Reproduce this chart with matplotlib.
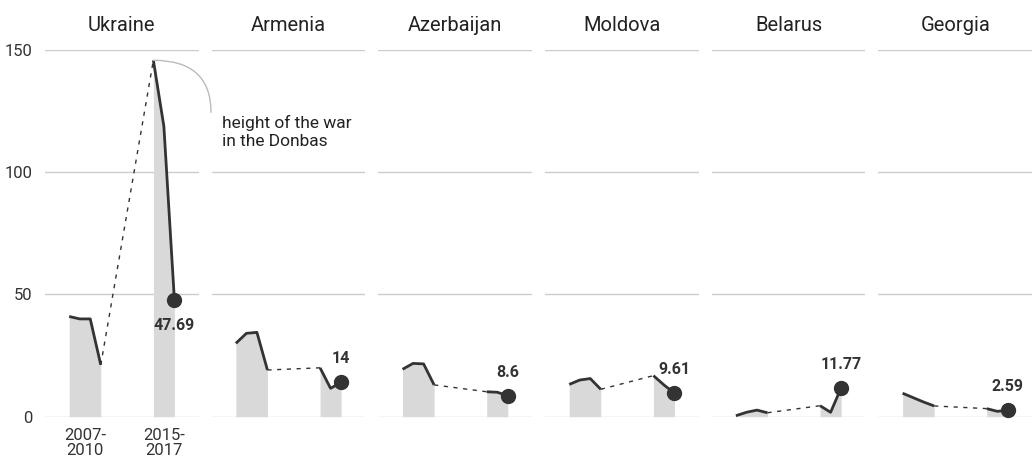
import matplotlib.pyplot as plt

plt.rcParams['font.family'] = ['Roboto', 'DejaVu Sans']

countries = ['Ukraine', 'Armenia', 'Azerbaijan', 'Moldova', 'Belarus', 'Georgia']
years_early = [2007, 2008, 2009, 2010]
years_late = [2015, 2016, 2017]

early = {
    'Ukraine': [41.0, 40.0, 40.0, 21.2],
    'Armenia': [30.0, 34.1, 34.5, 19.1],
    'Azerbaijan': [19.4, 21.8, 21.6, 13.0],
    'Moldova': [13.2, 15.0, 15.6, 11.2],
    'Belarus': [0.4, 1.8, 2.7, 1.6],
    'Georgia': [9.6, 7.8, 6.0, 4.4],
}
late = {
    'Ukraine': [145.8, 118.7, 47.69],
    'Armenia': [20.0, 11.6, 14],
    'Azerbaijan': [10.2, 10.0, 8.6],
    'Moldova': [16.8, 13.0, 9.61],
    'Belarus': [4.5, 1.8, 11.77],
    'Georgia': [3.3, 2.2, 2.59],
}
last_labels = ['47.69', '14', '8.6', '9.61', '11.77', '2.59']
period_labels = ['2007-\n2010', '2015-\n2017']
period_pos = [2008.5, 2016]
y_ticks = [0, 50, 100, 150]

dark = '#333333'
fill = '#d9d9d9'
grid = '#cccccc'

fig, axes = plt.subplots(1, 6, figsize=(10.32, 4.66), dpi=100, sharey=True)
fig.subplots_adjust(left=0.0436, right=1.0, bottom=0.1058, top=0.8927, wspace=0.085)

for i, (ax, c) in enumerate(zip(axes, countries)):
    e = early[c]
    l = late[c]
    ax.set_facecolor('none')
    ax.fill_between(years_early, e, 0, color=fill, lw=0, zorder=1)
    ax.fill_between(years_late, l, 0, color=fill, lw=0, zorder=1)
    ax.plot(years_early, e, color=dark, lw=2.0, zorder=3, solid_capstyle='butt', clip_on=False)
    ax.plot(years_late, l, color=dark, lw=2.0, zorder=3, solid_capstyle='butt', clip_on=False)
    ax.plot([years_early[-1], years_late[0]], [e[-1], l[0]], color=dark, lw=1,
            ls=(0, (3, 4)), zorder=2)
    ax.plot(years_late[-1], l[-1], 'o', color=dark, ms=10, zorder=4, clip_on=False)

    # label under the dot for Ukraine, above for the rest
    dy = -18 if c == 'Ukraine' else 17
    ax.annotate(last_labels[i], (years_late[-1], l[-1]), xytext=(0, dy),
                textcoords='offset points', ha='center', va='center',
                fontsize=11.5, fontweight='bold', color=dark)

    ax.set_xlim(2004.7, 2019.3)
    ax.set_ylim(0, 150)
    ax.set_yticks(y_ticks)
    ax.grid(axis='y', color=grid, lw=1)
    ax.set_axisbelow(True)
    for s in ax.spines.values():
        s.set_visible(False)
    ax.set_title(c, fontsize=14.5, color='#222222', pad=14)
    ax.tick_params(length=0, labelsize=12, colors='#333333')
    if i == 0:
        ax.set_xticks(period_pos)
        ax.set_xticklabels(period_labels, linespacing=1.0)
        ax.tick_params(axis='y', pad=9)
        ax.tick_params(axis='x', pad=8)
    else:
        ax.set_xticks([])
        ax.tick_params(axis='y', labelleft=False)

# note on the Ukraine peak
ax0 = axes[0]
ax0.set_zorder(5)
ax0.annotate('', xy=(years_late[0], late['Ukraine'][0]), xytext=(41.5, -37.5),
             textcoords='offset points', annotation_clip=False,
             arrowprops=dict(arrowstyle='-', color='#bbbbbb', lw=1,
                             connectionstyle='angle3,angleA=90,angleB=0',
                             shrinkA=0, shrinkB=0))
ax0.annotate('height of the war\nin the Donbas', xy=(years_late[0], late['Ukraine'][0]),
             xytext=(49.5, -51.5), textcoords='offset points', ha='left', va='center',
             fontsize=12.5, color='#222222', linespacing=1.2, annotation_clip=False)

plt.savefig('out.png', dpi=100)
